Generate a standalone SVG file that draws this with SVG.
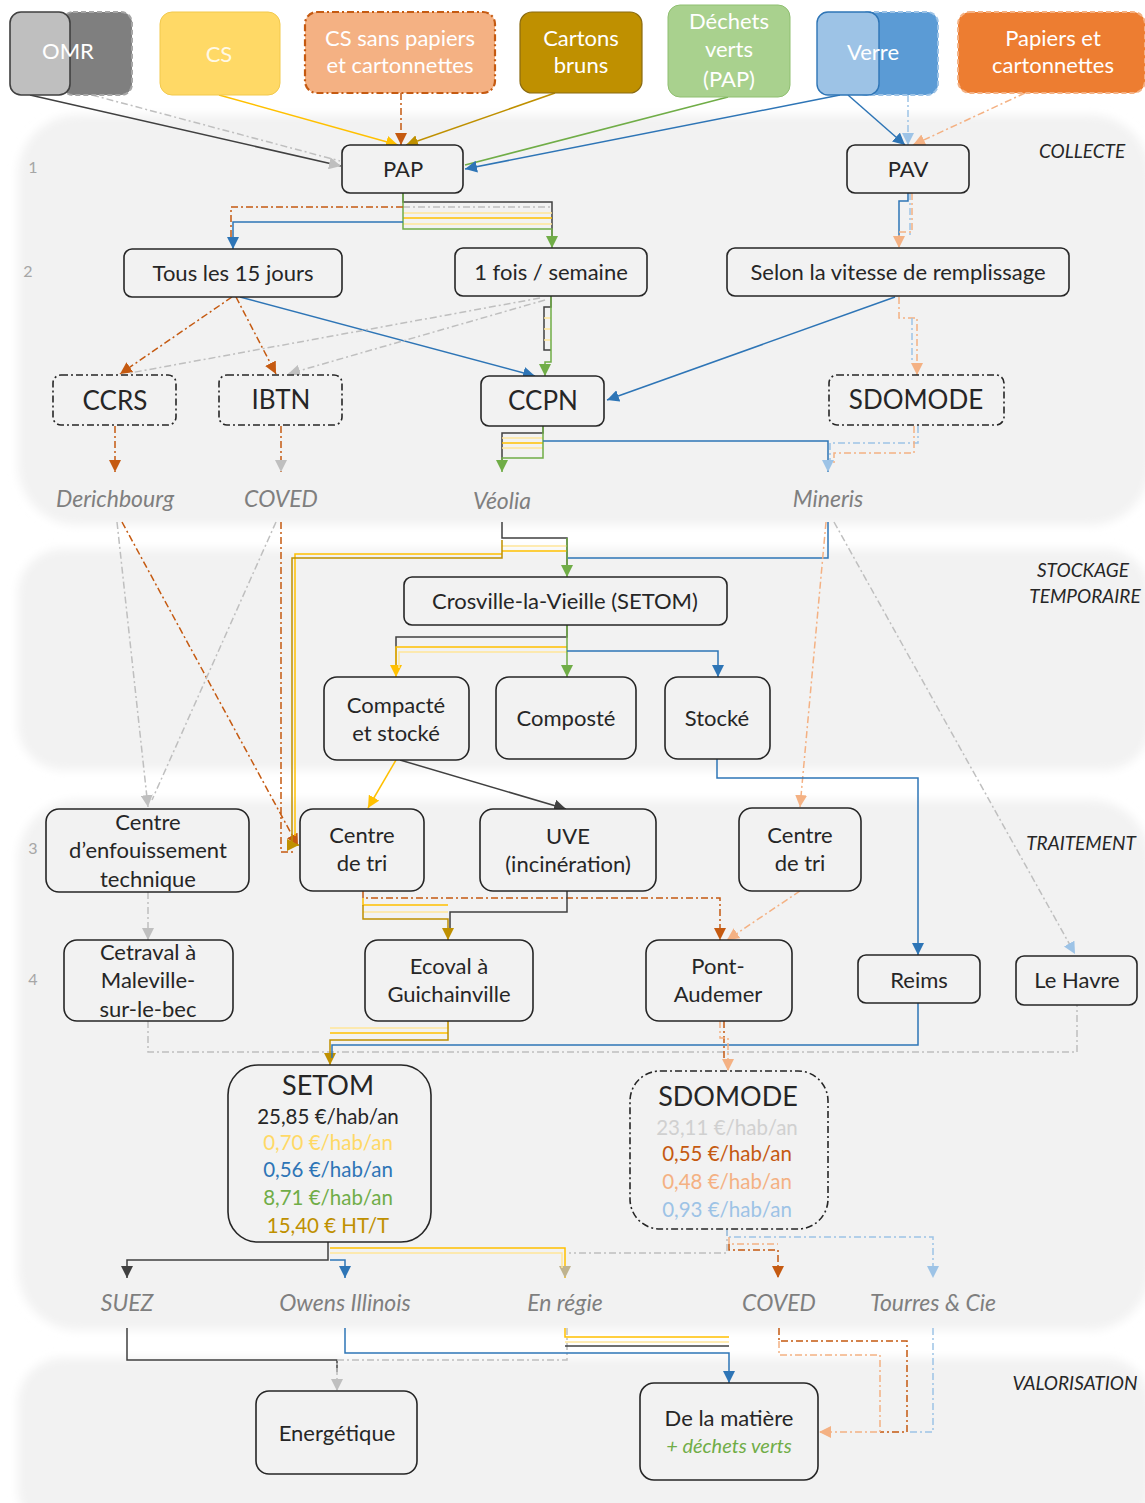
<svg xmlns="http://www.w3.org/2000/svg" width="1145" height="1503" viewBox="0 0 1145 1503">
<defs>
<style>
text{font-family:Lato,"Liberation Sans",sans-serif;fill:#262626}
.t{font-size:22px;text-anchor:middle}
.big{font-size:26px;text-anchor:middle}
.w{fill:#ffffff;font-size:22px;text-anchor:middle}
.it{font-size:23px;font-style:italic;fill:#7f7f7f;text-anchor:middle}
.sec{font-size:19px;font-style:italic;fill:#262626;text-anchor:middle}
.num{font-size:16px;fill:#a6a6a6;text-anchor:middle}
.pr{font-size:20.5px;text-anchor:middle}
.n{fill:#f2f2f2;stroke:#262626;stroke-width:1.6}
.ndd{fill:#f2f2f2;stroke:#262626;stroke-width:1.6;stroke-dasharray:7 3 2 3}
.c{fill:none;stroke-width:1.5}
.dd{stroke-dasharray:7 3 2 3}
.k{stroke:#404040}
.g{stroke:#bfbfbf}
.y{stroke:#ffc000}
.yl{stroke:#ffe699}
.br{stroke:#c55a11}
.lo{stroke:#f4b183}
.go{stroke:#bf9000}
.gr{stroke:#70ad47}
.b{stroke:#2e75b6}
.lb{stroke:#9dc3e6}
</style>
<filter id="soft" x="-5%" y="-10%" width="110%" height="120%"><feGaussianBlur stdDeviation="5"/></filter>
<marker id="m-k" viewBox="0 0 10 10" refX="10" refY="5" markerWidth="12" markerHeight="12" markerUnits="userSpaceOnUse" orient="auto"><path d="M0,0 L10,5 L0,10 z" fill="#404040"/></marker>
<marker id="m-g" viewBox="0 0 10 10" refX="10" refY="5" markerWidth="12" markerHeight="12" markerUnits="userSpaceOnUse" orient="auto"><path d="M0,0 L10,5 L0,10 z" fill="#bfbfbf"/></marker>
<marker id="m-y" viewBox="0 0 10 10" refX="10" refY="5" markerWidth="12" markerHeight="12" markerUnits="userSpaceOnUse" orient="auto"><path d="M0,0 L10,5 L0,10 z" fill="#ffc000"/></marker>
<marker id="m-br" viewBox="0 0 10 10" refX="10" refY="5" markerWidth="12" markerHeight="12" markerUnits="userSpaceOnUse" orient="auto"><path d="M0,0 L10,5 L0,10 z" fill="#c55a11"/></marker>
<marker id="m-lo" viewBox="0 0 10 10" refX="10" refY="5" markerWidth="12" markerHeight="12" markerUnits="userSpaceOnUse" orient="auto"><path d="M0,0 L10,5 L0,10 z" fill="#f4b183"/></marker>
<marker id="m-go" viewBox="0 0 10 10" refX="10" refY="5" markerWidth="12" markerHeight="12" markerUnits="userSpaceOnUse" orient="auto"><path d="M0,0 L10,5 L0,10 z" fill="#bf9000"/></marker>
<marker id="m-gr" viewBox="0 0 10 10" refX="10" refY="5" markerWidth="12" markerHeight="12" markerUnits="userSpaceOnUse" orient="auto"><path d="M0,0 L10,5 L0,10 z" fill="#70ad47"/></marker>
<marker id="m-b" viewBox="0 0 10 10" refX="10" refY="5" markerWidth="12" markerHeight="12" markerUnits="userSpaceOnUse" orient="auto"><path d="M0,0 L10,5 L0,10 z" fill="#2e75b6"/></marker>
<marker id="m-lb" viewBox="0 0 10 10" refX="10" refY="5" markerWidth="12" markerHeight="12" markerUnits="userSpaceOnUse" orient="auto"><path d="M0,0 L10,5 L0,10 z" fill="#9dc3e6"/></marker>
<marker id="m-tan" viewBox="0 0 10 10" refX="10" refY="5" markerWidth="12" markerHeight="12" markerUnits="userSpaceOnUse" orient="auto"><path d="M0,0 L10,5 L0,10 z" fill="#bfb38f"/></marker>
</defs>

<rect width="1145" height="1503" fill="#ffffff"/>

<g id="panels" fill="#f2f2f2" filter="url(#soft)">
<rect x="18" y="115" width="1132" height="410" rx="60"/>
<rect x="18" y="549" width="1132" height="221" rx="45"/>
<rect x="18" y="800" width="1132" height="530" rx="60"/>
<rect x="18" y="1358" width="1132" height="175" rx="45"/>
</g>

<g id="section-labels">
<text class="sec" x="1082" y="158">COLLECTE</text>
<text class="sec" x="1083" y="577">STOCKAGE</text>
<text class="sec" x="1085" y="603">TEMPORAIRE</text>
<text class="sec" x="1081" y="850">TRAITEMENT</text>
<text class="sec" x="1075" y="1390">VALORISATION</text>
<text class="num" x="33" y="173">1</text>
<text class="num" x="28" y="277">2</text>
<text class="num" x="33" y="854">3</text>
<text class="num" x="33" y="985">4</text>
</g>

<g id="connectors">
<!-- top row to PAP / PAV -->
<path class="c k" d="M30,95 L341,166" marker-end="url(#m-g)"/>
<path class="c g dd" d="M92,95 L340,161"/>
<path class="c y" d="M219,95 L398,145" marker-end="url(#m-y)"/>
<path class="c br dd" d="M401,93 V145" marker-end="url(#m-br)"/>
<path class="c go" d="M555,93 L406,145" marker-end="url(#m-go)"/>
<path class="c gr" d="M728,97 L465,165"/>
<path class="c b" d="M840,95 L465,169" marker-end="url(#m-b)"/>
<path class="c b" d="M848,95 L905,145" marker-end="url(#m-b)"/>
<path class="c lb dd" d="M908,95 V145" marker-end="url(#m-lb)"/>
<path class="c lo dd" d="M1025,93 L913,145" marker-end="url(#m-lo)"/>
<!-- PAP to frequencies -->
<path class="c k" d="M403,193 V202 H552 V240"/>
<path class="c g dd" d="M403,207 H552"/>
<path class="c yl" d="M403,213 H552"/>
<path class="c y" d="M403,218 H552"/>
<path class="c yl" d="M403,224 H552"/>
<path class="c gr" d="M403,193 V229 H552 V248" marker-end="url(#m-gr)"/>
<path class="c br dd" d="M403,207 H231 V240"/>
<path class="c b" d="M403,222 H233 V249" marker-end="url(#m-b)"/>
<!-- PAV to Selon -->
<path class="c b" d="M908,193 V201 H899 V238"/>
<path class="c lb dd" d="M910,193 V238"/>
<path class="c lo dd" d="M912,193 V232 H899 V248" marker-end="url(#m-lo)"/>
<!-- Tous les 15 jours -->
<path class="c br dd" d="M232,297 L120,374" marker-end="url(#m-br)"/>
<path class="c br dd" d="M236,297 L276,374" marker-end="url(#m-br)"/>
<path class="c b" d="M240,297 L535,376" marker-end="url(#m-b)"/>
<!-- 1 fois / semaine -->
<path class="c g dd" d="M540,298 L130,373"/>
<path class="c g dd" d="M545,300 L288,374" marker-end="url(#m-g)"/>
<path class="c k" d="M551,296 V307 H544 V350 H551"/>
<path class="c yl" d="M544,318 H551 M544,329 H551 M544,340 H551"/>
<path class="c gr" d="M551,296 V362 H545 V376" marker-end="url(#m-gr)"/>
<!-- Selon -->
<path class="c b" d="M895,297 L607,400" marker-end="url(#m-b)"/>
<path class="c lo dd" d="M899,297 V318 H917 V375" marker-end="url(#m-lo)"/>
<path class="c lb dd" d="M912,318 V362"/>
<!-- to operators -->
<path class="c br dd" d="M115,426 V472" marker-end="url(#m-br)"/>
<path class="c br dd" d="M281,426 V472" marker-end="url(#m-g)"/>
<path class="c k" d="M543,426 V433 H502 V462"/>
<path class="c yl" d="M543,438 H502"/>
<path class="c y" d="M543,443 H502"/>
<path class="c yl" d="M543,448 H502"/>
<path class="c gr" d="M543,426 V458 H502 V472" marker-end="url(#m-gr)"/>
<path class="c b" d="M543,441 H828 V472" marker-end="url(#m-lb)"/>
<path class="c lb dd" d="M918,426 V443 H830 V462"/>
<path class="c lo dd" d="M914,426 V453 H834 V464"/>
<!-- Derichbourg / COVED -->
<path class="c g dd" d="M117,522 L148,807" marker-end="url(#m-g)"/>
<path class="c br dd" d="M122,522 L298,846" marker-end="url(#m-br)"/>
<path class="c g dd" d="M276,522 L152,800"/>
<path class="c br dd" d="M281,522 V852 H296"/>
<!-- Veolia -->
<path class="c k" d="M502,522 V538 H567 V570"/>
<path class="c yl" d="M502,546 H567"/>
<path class="c y" d="M502,551 H567"/>
<path class="c y" d="M502,554 H295 V836"/>
<path class="c go" d="M502,540 V558 H292 V845 H299" marker-end="url(#m-go)"/>
<path class="c b" d="M828,522 V558 H567"/>
<path class="c gr" d="M567,538 V577" marker-end="url(#m-gr)"/>
<!-- Mineris -->
<path class="c lo dd" d="M826,522 L800,807" marker-end="url(#m-lo)"/>
<path class="c g dd" d="M834,522 L1075,954" marker-end="url(#m-lb)"/>
<!-- Crosville -->
<path class="c k" d="M567,625 V637 H396 V668"/>
<path class="c y" d="M567,647 H396 V677" marker-end="url(#m-y)"/>
<path class="c yl" d="M567,652 H399 V668"/>
<path class="c gr" d="M567,625 V677" marker-end="url(#m-gr)"/>
<path class="c b" d="M567,651 H718 V677" marker-end="url(#m-b)"/>
<!-- Stockage to traitement -->
<path class="c y" d="M396,760 L368,808" marker-end="url(#m-y)"/>
<path class="c k" d="M400,760 L566,809" marker-end="url(#m-k)"/>
<path class="c b" d="M717,759 V778 H918 V955" marker-end="url(#m-b)"/>
<path class="c g dd" d="M148,892 V940" marker-end="url(#m-g)"/>
<!-- Centre de tri / UVE -->
<path class="c br dd" d="M363,891 V898 H720 V940" marker-end="url(#m-br)"/>
<path class="c y" d="M363,898 V905 H448"/>
<path class="c yl" d="M363,912 H448"/>
<path class="c k" d="M567,891 V912 H450 V930"/>
<path class="c go" d="M363,905 V919 H448 V940" marker-end="url(#m-go)"/>
<path class="c lo dd" d="M800,891 L727,940" marker-end="url(#m-lo)"/>
<!-- level 4 to SETOM / SDOMODE -->
<path class="c g dd" d="M148,1021 V1052 H1077 V1005"/>
<path class="c yl" d="M448,1021 V1028 H330"/>
<path class="c y" d="M448,1033 H330"/>
<path class="c go" d="M448,1021 V1040 H330 V1065" marker-end="url(#m-go)"/>
<path class="c b" d="M918,1003 V1045 H332 V1058"/>
<path class="c br dd" d="M724,1021 V1060"/>
<path class="c lo dd" d="M720,1021 V1038 H728 V1071" marker-end="url(#m-lo)"/>
<!-- SETOM outputs -->
<path class="c k" d="M328,1242 V1260 H127 V1278" marker-end="url(#m-k)"/>
<path class="c b" d="M330,1260 H345 V1278" marker-end="url(#m-b)"/>
<path class="c y" d="M330,1248 H565 V1278" marker-end="url(#m-tan)"/>
<path class="c yl" d="M330,1253 H562 V1268"/>
<!-- SDOMODE outputs -->
<path class="c g dd" d="M727,1229 V1253 H569"/>
<path class="c lb dd" d="M727,1229 V1237 H933 V1278" marker-end="url(#m-lb)"/>
<path class="c lo dd" d="M729,1237 V1244 H778"/>
<path class="c br dd" d="M729,1244 V1250 H778 V1278" marker-end="url(#m-br)"/>
<!-- to valorisation -->
<path class="c k" d="M127,1328 V1360 H337 V1372"/>
<path class="c g dd" d="M567,1328 V1360 H337 V1391" marker-end="url(#m-g)"/>
<path class="c y" d="M565,1328 V1337 H729"/>
<path class="c yl" d="M565,1342 H729"/>
<path class="c k" d="M565,1346 H729"/>
<path class="c b" d="M345,1328 V1353 H729 V1383" marker-end="url(#m-b)"/>
<path class="c br dd" d="M779,1328 V1341 H907 V1432 H880"/>
<path class="c lo dd" d="M779,1341 V1355 H880 V1432 H819" marker-end="url(#m-lo)"/>
<path class="c lb dd" d="M933,1328 V1432 H907"/>
</g>

<!-- source boxes -->
<g id="n-omr">
<rect x="62" y="12" width="70" height="83" rx="11" fill="#7f7f7f" stroke="#a6a6a6" stroke-width="2" stroke-dasharray="5 3"/>
<rect x="10" y="12" width="60" height="83" rx="11" fill="#bfbfbf" stroke="#404040" stroke-width="1.6"/>
<text class="w" x="68" y="59">OMR</text>
</g>
<g id="n-cs">
<rect x="160" y="12" width="120" height="83" rx="12" fill="#ffd966" stroke="#f2c94c" stroke-width="1"/>
<text class="w" x="219" y="62" fill-opacity="0.85">CS</text>
</g>
<g id="n-cssp">
<rect x="305" y="12" width="190" height="81" rx="12" fill="#f4b183" stroke="#c55a11" stroke-width="2.2" stroke-dasharray="7 3 2 3"/>
<text class="w" x="400" y="46">CS sans papiers</text>
<text class="w" x="400" y="73">et cartonnettes</text>
</g>
<g id="n-cartons">
<rect x="520" y="12" width="122" height="81" rx="12" fill="#bf9000" stroke="#8a6a10" stroke-width="1.2"/>
<text class="w" x="581" y="46">Cartons</text>
<text class="w" x="581" y="73">bruns</text>
</g>
<g id="n-dv">
<rect x="668" y="5" width="122" height="92" rx="12" fill="#a9d18e" stroke="#8fbf70" stroke-width="1"/>
<text class="w" x="729" y="29">Déchets</text>
<text class="w" x="729" y="57">verts</text>
<text class="w" x="729" y="87">(PAP)</text>
</g>
<g id="n-verre">
<rect x="855" y="12" width="83" height="83" rx="11" fill="#5b9bd5" stroke="#9dc3e6" stroke-width="2" stroke-dasharray="5 3"/>
<rect x="817" y="12" width="62" height="83" rx="11" fill="#9dc3e6" stroke="#2e75b6" stroke-width="1.4"/>
<text class="w" x="873" y="60">Verre</text>
</g>
<g id="n-papiers">
<rect x="958" y="12" width="187" height="81" rx="12" fill="#ed7d31" stroke="#f4b183" stroke-width="2" stroke-dasharray="5 3"/>
<text class="w" x="1053" y="46">Papiers et</text>
<text class="w" x="1053" y="73">cartonnettes</text>
</g>

<!-- collecte -->
<g id="n-pap"><rect class="n" x="342" y="145" width="121" height="48" rx="8"/><text class="t" x="403" y="177">PAP</text></g>
<g id="n-pav"><rect class="n" x="847" y="145" width="122" height="48" rx="8"/><text class="t" x="908" y="177">PAV</text></g>
<g id="n-15j"><rect class="n" x="124" y="249" width="218" height="48" rx="8"/><text class="t" x="233" y="281">Tous les 15 jours</text></g>
<g id="n-1fs"><rect class="n" x="455" y="248" width="192" height="48" rx="8"/><text class="t" x="551" y="280">1 fois / semaine</text></g>
<g id="n-selon"><rect class="n" x="727" y="248" width="342" height="48" rx="8"/><text class="t" x="898" y="280">Selon la vitesse de remplissage</text></g>
<g id="n-ccrs"><rect class="ndd" x="53" y="375" width="123" height="50" rx="8"/><text class="big" x="115" y="410">CCRS</text></g>
<g id="n-ibtn"><rect class="ndd" x="219" y="375" width="123" height="50" rx="8"/><text class="big" x="281" y="409">IBTN</text></g>
<g id="n-ccpn"><rect class="n" x="481" y="376" width="123" height="50" rx="8"/><text class="big" x="543" y="410">CCPN</text></g>
<g id="n-sdomode1"><rect class="ndd" x="829" y="375" width="175" height="50" rx="8"/><text class="big" x="916" y="409">SDOMODE</text></g>
<g id="l-derichbourg"><text class="it" x="115" y="507">Derichbourg</text></g>
<g id="l-coved1"><text class="it" x="281" y="507">COVED</text></g>
<g id="l-veolia"><text class="it" x="502" y="509">Véolia</text></g>
<g id="l-mineris"><text class="it" x="828" y="507">Mineris</text></g>

<!-- stockage -->
<g id="n-crosville"><rect class="n" x="404" y="577" width="323" height="48" rx="8"/><text class="t" x="565" y="609">Crosville-la-Vieille (SETOM)</text></g>
<g id="n-compacte"><rect class="n" x="324" y="677" width="145" height="83" rx="13"/><text class="t" x="396" y="713">Compacté</text><text class="t" x="396" y="741">et stocké</text></g>
<g id="n-composte"><rect class="n" x="496" y="677" width="140" height="82" rx="13"/><text class="t" x="566" y="726">Composté</text></g>
<g id="n-stocke"><rect class="n" x="665" y="677" width="105" height="82" rx="13"/><text class="t" x="717" y="726">Stocké</text></g>

<!-- traitement -->
<g id="n-cet"><rect class="n" x="46" y="809" width="203" height="83" rx="13"/><text class="t" x="148" y="830">Centre</text><text class="t" x="148" y="858">d’enfouissement</text><text class="t" x="148" y="887">technique</text></g>
<g id="n-cdt1"><rect class="n" x="300" y="809" width="124" height="82" rx="13"/><text class="t" x="362" y="843">Centre</text><text class="t" x="362" y="871">de tri</text></g>
<g id="n-uve"><rect class="n" x="480" y="809" width="176" height="82" rx="13"/><text class="t" x="568" y="844">UVE</text><text class="t" x="568" y="872">(incinération)</text></g>
<g id="n-cdt2"><rect class="n" x="739" y="808" width="122" height="83" rx="13"/><text class="t" x="800" y="843">Centre</text><text class="t" x="800" y="871">de tri</text></g>
<g id="n-cetraval"><rect class="n" x="64" y="940" width="169" height="81" rx="13"/><text class="t" x="148" y="960">Cetraval à</text><text class="t" x="148" y="988">Maleville-</text><text class="t" x="148" y="1017">sur-le-bec</text></g>
<g id="n-ecoval"><rect class="n" x="365" y="940" width="168" height="81" rx="13"/><text class="t" x="449" y="974">Ecoval à</text><text class="t" x="449" y="1002">Guichainville</text></g>
<g id="n-pontaudemer"><rect class="n" x="646" y="940" width="146" height="81" rx="13"/><text class="t" x="718" y="974">Pont-</text><text class="t" x="718" y="1002">Audemer</text></g>
<g id="n-reims"><rect class="n" x="858" y="955" width="122" height="48" rx="8"/><text class="t" x="919" y="988">Reims</text></g>
<g id="n-lehavre"><rect class="n" x="1016" y="956" width="121" height="49" rx="8"/><text class="t" x="1077" y="988">Le Havre</text></g>

<g id="n-setom">
<rect class="n" x="228" y="1065" width="203" height="177" rx="30"/>
<text x="328" y="1095" style="font-size:27px;text-anchor:middle">SETOM</text>
<text class="pr" x="328" y="1124">25,85 €/hab/an</text>
<text class="pr" x="328" y="1150" style="fill:#ffd966">0,70 €/hab/an</text>
<text class="pr" x="328" y="1177" style="fill:#2e75b6">0,56 €/hab/an</text>
<text class="pr" x="328" y="1205" style="fill:#70ad47">8,71 €/hab/an</text>
<text class="pr" x="328" y="1233" style="fill:#bf9000">15,40 € HT/T</text>
</g>
<g id="n-sdomode2">
<rect class="ndd" x="630" y="1071" width="198" height="158" rx="30"/>
<text x="728" y="1106" style="font-size:27px;text-anchor:middle">SDOMODE</text>
<text class="pr" x="727" y="1135" style="fill:#d0d0d0">23,11 €/hab/an</text>
<text class="pr" x="727" y="1161" style="fill:#c55a11">0,55 €/hab/an</text>
<text class="pr" x="727" y="1189" style="fill:#f4b183">0,48 €/hab/an</text>
<text class="pr" x="727" y="1217" style="fill:#9dc3e6">0,93 €/hab/an</text>
</g>
<g id="l-suez"><text class="it" x="127" y="1311">SUEZ</text></g>
<g id="l-owens"><text class="it" x="345" y="1311">Owens Illinois</text></g>
<g id="l-regie"><text class="it" x="565" y="1311">En régie</text></g>
<g id="l-coved2"><text class="it" x="779" y="1311">COVED</text></g>
<g id="l-tourres"><text class="it" x="933" y="1311">Tourres &amp; Cie</text></g>

<!-- valorisation -->
<g id="n-energetique"><rect class="n" x="256" y="1391" width="161" height="83" rx="13"/><text class="t" x="337" y="1441">Energétique</text></g>
<g id="n-matiere"><rect class="n" x="640" y="1383" width="178" height="97" rx="14"/><text class="t" x="729" y="1426">De la matière</text><text x="729" y="1453" style="font-size:20px;font-style:italic;fill:#70ad47;text-anchor:middle">+ déchets verts</text></g>
</svg>
